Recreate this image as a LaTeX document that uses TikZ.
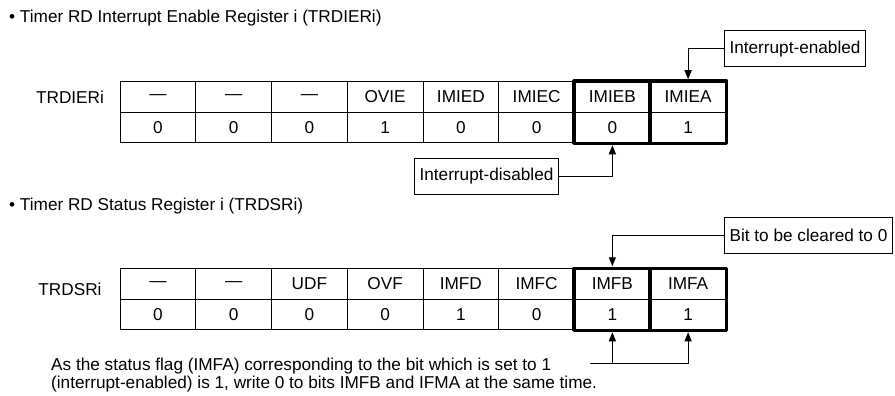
\documentclass[tikz,border=0pt]{standalone}
\usepackage{fontspec}
\setmainfont{Liberation Sans}
\usetikzlibrary{arrows.meta}
\newcommand{\regfont}{\fontsize{17.2}{18}\selectfont}

\begin{document}
\begin{tikzpicture}[x=1pt, y=-1pt,
        every node/.style={font=\regfont},
        cell/.style={draw, line width=1pt, minimum width=75.75pt, minimum height=30.5pt, inner sep=0pt},
        note/.style={draw, line width=1pt, minimum height=36pt, inner xsep=5pt},
        title/.style={anchor=west, inner sep=0pt},
        arr/.style={line width=1pt, -{Triangle[length=9pt, width=7pt]}, shorten >=2pt}
      ]
        \useasboundingbox (0,0) rectangle (895,396);
        \node[title] (ietitle) at (9,18) {\textbullet\ Timer RD Interrupt Enable Register i (TRDIERi)};
        \node (ielabel) at (70,97) {TRDIERi};
        \foreach \n/\v [count=\i] in {---/0, ---/0, ---/0, OVIE/1, IMIED/0, IMIEC/0, IMIEB/0, IMIEA/1} {
          \node[cell] (ien\i) at ({120+75.75*(\i-0.5)},97) {\n};
          \node[cell] (iev\i) at ({120+75.75*(\i-0.5)},127.5) {\v};
        }
        \draw[line width=3.5pt, line join=round] (ien7.north west) rectangle (iev8.south east);
        \draw[line width=3.5pt] (ien8.north west) -- (iev8.south west);
        \node[note] (enabled) at (795,49) {Interrupt-enabled};
        \node[note] (disabled) at (486.5,176) {Interrupt-disabled};
        \draw[arr] (enabled.west) -| (ien8.north);
        \draw[arr] (disabled.east) -| (iev7.south);

        \node[title] (srtitle) at (9,206) {\textbullet\ Timer RD Status Register i (TRDSRi)};
        \node (srlabel) at (70,289) {TRDSRi};
        \foreach \n/\v [count=\i] in {---/0, ---/0, UDF/0, OVF/0, IMFD/1, IMFC/0, IMFB/1, IMFA/1} {
          \node[cell] (srn\i) at ({120+75.75*(\i-0.5)},284) {\n};
          \node[cell] (srv\i) at ({120+75.75*(\i-0.5)},314.5) {\v};
        }
        \draw[line width=3.5pt, line join=round] (srn7.north west) rectangle (srv8.south east);
        \draw[line width=3.5pt] (srn8.north west) -- (srv8.south west);
        \node[note] (cleared) at (808.5,235) {Bit to be cleared to 0};
        \draw[arr] (cleared.west) -| (srn7.north);
        \node[anchor=west, align=left, inner sep=0pt] (remark) at (51,375) {As the status flag (IMFA) corresponding to the bit which is set to 1\\(interrupt-enabled) is 1, write 0 to bits IMFB and IFMA at the same time.};
        \coordinate (src) at (590,363);
        \coordinate (fork) at (srv7.south |- src);
        \draw[arr] (src) -| (srv8.south);
        \draw[arr] (fork) -- (srv7.south);
      \end{tikzpicture}
\end{document}
